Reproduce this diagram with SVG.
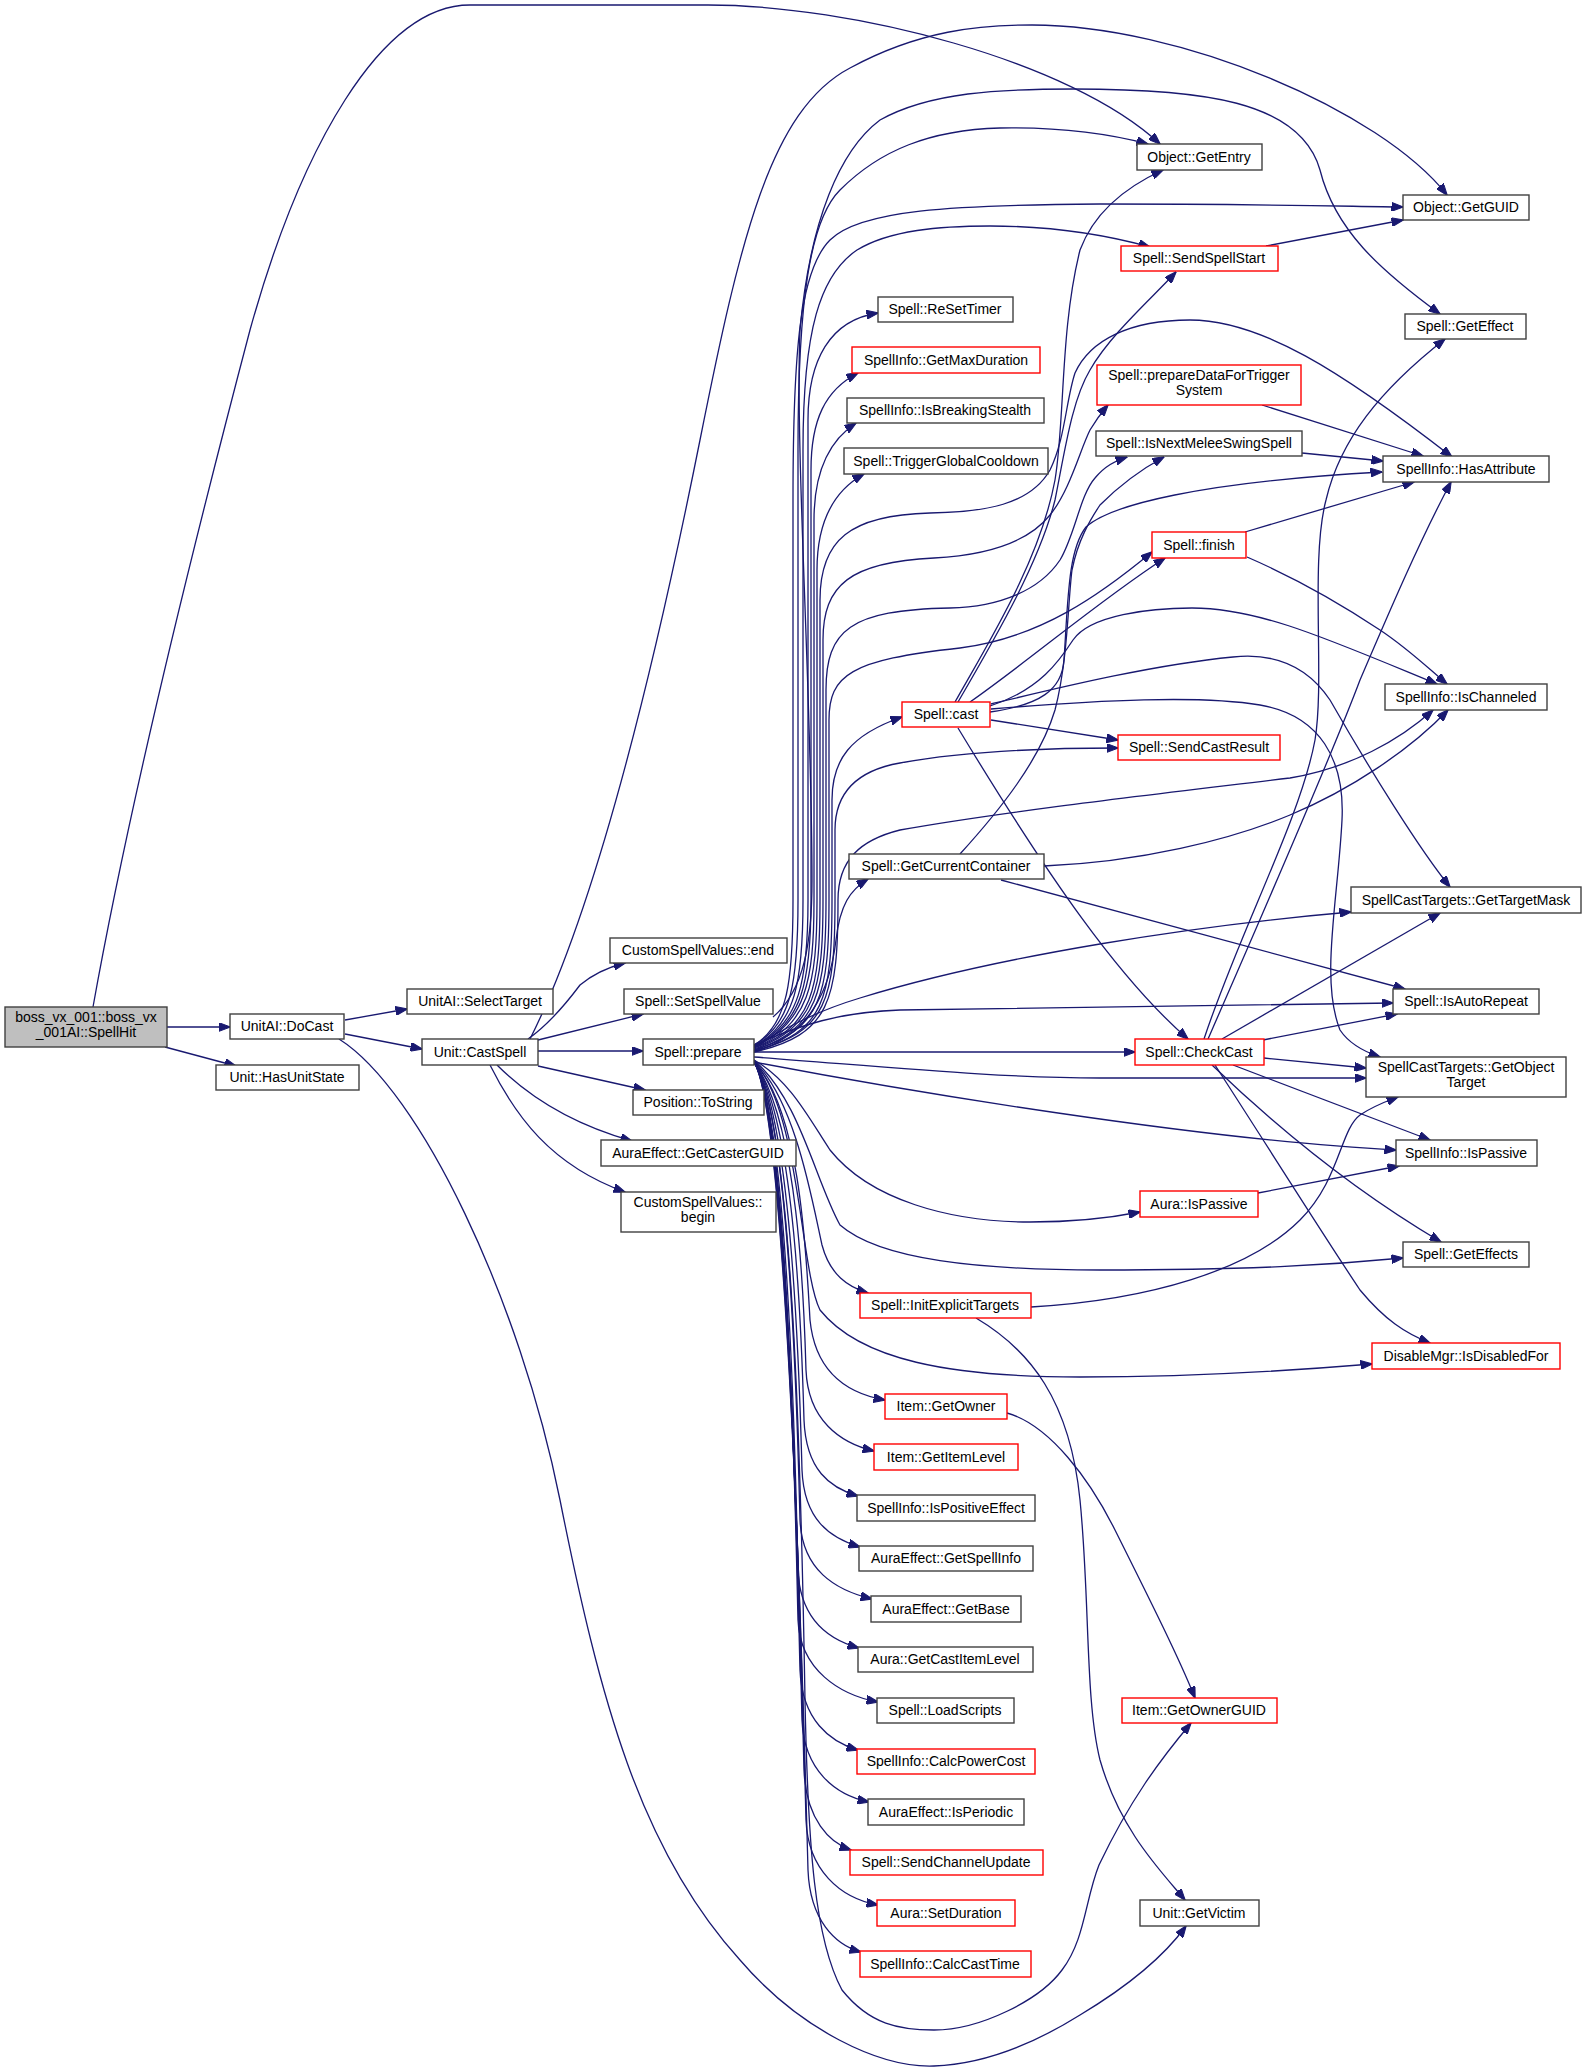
<svg xmlns="http://www.w3.org/2000/svg" width="1587" height="2071" viewBox="0 0 1587 2071">
<style>
.n rect{fill:#fff;stroke:#404040;stroke-width:1.4}
.r rect{fill:#fff;stroke:#ff0000;stroke-width:1.4}
.root rect{fill:#bfbfbf;stroke:#404040;stroke-width:1.4}
text{font-family:"Liberation Sans",Arial,sans-serif;font-size:14px;text-anchor:middle;fill:#000}
.e path{fill:none;stroke:#191970;stroke-width:1.3;marker-end:url(#a)}
</style>
<defs>
<marker id="a" markerWidth="12" markerHeight="9" refX="11.5" refY="4.5" orient="auto" markerUnits="userSpaceOnUse">
<path d="M0,0 L12,4.5 L0,9 z" fill="#191970" stroke="#191970" stroke-width="1"/>
</marker>
</defs>
<rect x="0" y="0" width="1587" height="2071" fill="#fff"/>
<g id="edges" class="e">
<path d="M167,1027 L230,1027"/>
<path d="M165,1047 L236,1066"/>
<path d="M93,1007 C130,800 200,520 250,330 C300,150 380,5 470,5 L708,5 C850,5 1070,60 1160,144"/>
<path d="M345,1020 L407,1009"/>
<path d="M345,1034 L422,1049"/>
<path d="M339,1039 C420,1090 520,1300 560,1500 C600,1700 640,1850 740,1960 C800,2030 880,2068 934,2066 C990,2064 1040,2040 1080,2015 C1130,1985 1165,1955 1186,1926"/>
<path d="M528,1039 C548,1025 565,1005 580,985 C592,975 605,968 625,963"/>
<path d="M530,1039 C600,900 660,640 700,440 C740,240 770,110 850,68 C920,30 980,25 1032,25 C1180,25 1380,110 1447,195"/>
<path d="M538,1040 L643,1014"/>
<path d="M538,1051 L643,1051"/>
<path d="M538,1066 L645,1090"/>
<path d="M497,1065 C530,1098 575,1125 632,1141"/>
<path d="M490,1065 C515,1115 550,1165 625,1192"/>
<path d="M773,1017 C805,990 812,940 812,880 C812,700 795,450 800,330 C810,220 840,150 880,120 C930,92 1000,89 1073,89 C1200,89 1300,100 1320,170 C1335,230 1380,270 1440,314"/>
<path d="M754,1045 C788,1025 793,980 793,900 L793,500 C793,350 800,270 830,240 C860,210 950,205 1100,204 C1250,204 1330,206 1403,207"/>
<path d="M754,1045 C792,1025 798,980 798,900 L798,450 C798,300 810,220 840,190 C880,150 930,130 1000,128 C1060,127 1110,134 1148,144"/>
<path d="M754,1046 C796,1025 803,980 803,900 L803,450 C803,330 820,275 857,250 C890,230 940,226 990,226 C1060,226 1110,236 1150,247"/>
<path d="M754,1046 C800,1025 808,980 808,900 L808,420 C808,360 830,320 878,313"/>
<path d="M754,1047 C803,1025 811,980 811,900 L811,470 C811,420 825,390 858,373"/>
<path d="M754,1047 C806,1025 814,980 814,900 L814,520 C814,470 830,440 856,423"/>
<path d="M754,1048 C809,1025 817,985 817,900 L817,570 C817,520 835,490 864,474"/>
<path d="M754,1048 C812,1028 820,990 820,900 L820,600 C820,540 850,515 930,513 C985,512 1030,505 1050,470 C1065,440 1066,400 1075,373 C1090,340 1130,320 1190,320 C1260,320 1340,370 1452,457"/>
<path d="M754,1049 C815,1028 823,990 823,900 L823,640 C823,585 850,562 934,558 C990,555 1030,540 1050,515 C1070,490 1080,450 1090,430 C1096,420 1102,412 1108,405"/>
<path d="M754,1050 C818,1030 826,990 826,900 L826,690 C826,630 850,610 950,608 C1000,607 1040,590 1060,560 C1075,535 1080,495 1095,478 C1105,466 1115,461 1127,457"/>
<path d="M754,1050 C821,1030 829,995 829,900 L829,720 C829,675 850,660 960,648 C1040,638 1100,595 1152,552"/>
<path d="M754,1051 C824,1032 832,1000 832,900 L832,800 C832,760 850,735 902,717"/>
<path d="M754,1051 C827,1032 835,1000 835,900 L835,830 C835,790 860,770 900,763 C960,752 1040,748 1118,748"/>
<path d="M754,1052 C830,1035 838,1000 838,900 C838,860 860,840 900,830 C1000,812 1150,795 1290,778 C1350,768 1400,740 1433,710"/>
<path d="M754,1052 C810,1035 830,990 836,940 C840,905 850,890 868,879"/>
<path d="M754,1047 C790,1025 820,1010 860,998 C1000,955 1200,925 1351,912"/>
<path d="M754,1045 C800,1025 840,1012 900,1010 C1100,1006 1300,1003 1393,1003"/>
<path d="M754,1052 L1135,1052"/>
<path d="M754,1057 C900,1068 1000,1078 1100,1078 L1366,1078"/>
<path d="M754,1062 C900,1090 1200,1140 1396,1150"/>
<path d="M754,1060 C790,1080 810,1120 830,1150 C870,1200 950,1222 1030,1222 C1080,1222 1110,1218 1140,1212"/>
<path d="M754,1060 C800,1100 815,1180 840,1225 C880,1260 980,1270 1100,1270 C1250,1270 1330,1265 1403,1258"/>
<path d="M754,1061 C795,1100 812,1200 822,1245 C830,1275 848,1287 868,1293"/>
<path d="M754,1062 C800,1110 800,1270 820,1310 C860,1360 950,1377 1080,1377 C1200,1377 1300,1370 1372,1364"/>
<path d="M754,1062 C800,1110 806,1250 810,1320 C815,1370 845,1393 885,1400"/>
<path d="M754,1062 C798,1120 804,1300 806,1370 C808,1420 840,1443 874,1451"/>
<path d="M754,1062 C796,1120 802,1350 804,1420 C806,1470 830,1488 858,1496"/>
<path d="M754,1062 C794,1120 800,1400 802,1470 C804,1520 830,1538 860,1547"/>
<path d="M754,1062 C792,1120 798,1450 800,1520 C802,1570 835,1590 872,1599"/>
<path d="M754,1062 C790,1120 796,1500 798,1570 C800,1620 830,1640 859,1648"/>
<path d="M754,1062 C790,1120 796,1550 798,1620 C800,1670 840,1695 878,1702"/>
<path d="M754,1062 C790,1120 798,1600 800,1670 C802,1720 830,1742 858,1750"/>
<path d="M754,1062 C790,1120 800,1650 802,1720 C804,1770 835,1795 869,1802"/>
<path d="M754,1062 C790,1120 802,1700 804,1770 C806,1820 830,1843 851,1850"/>
<path d="M754,1062 C790,1120 804,1750 806,1820 C808,1870 840,1898 878,1905"/>
<path d="M754,1062 C790,1120 806,1800 808,1870 C810,1920 835,1945 861,1952"/>
<path d="M754,1062 C790,1120 800,1400 805,1700 C808,1850 815,1940 842,1990 C870,2025 900,2030 934,2030 C980,2030 1040,2000 1062,1970 C1085,1940 1085,1900 1099,1865 C1130,1800 1160,1760 1191,1723"/>
<path d="M955,702 C990,640 1040,560 1055,480 C1065,420 1060,330 1080,250 C1095,210 1130,185 1163,170"/>
<path d="M958,702 C1000,630 1040,560 1055,500 C1065,450 1072,400 1090,370 C1110,335 1150,300 1176,272"/>
<path d="M970,702 C1030,660 1100,600 1165,558"/>
<path d="M990,712 C1040,705 1062,690 1064,660 C1068,600 1068,550 1086,527 C1110,505 1200,482 1382,472"/>
<path d="M990,706 C1040,690 1060,660 1073,640 C1090,615 1150,608 1192,608 C1260,608 1330,640 1437,684"/>
<path d="M991,720 L1118,740"/>
<path d="M958,728 C1050,880 1120,980 1188,1039"/>
<path d="M991,704 C1050,690 1150,665 1233,657 C1280,652 1310,670 1330,700 C1370,770 1420,850 1450,887"/>
<path d="M991,709 C1100,700 1200,695 1260,705 C1320,715 1345,760 1342,820 C1338,900 1320,980 1340,1030 C1350,1045 1365,1052 1380,1057"/>
<path d="M1245,532 L1414,482"/>
<path d="M1247,557 C1300,580 1350,610 1380,630 C1410,650 1430,670 1447,684"/>
<path d="M1262,405 L1423,456"/>
<path d="M1302,453 L1383,461"/>
<path d="M1266,246 L1403,220"/>
<path d="M960,854 C1000,810 1040,760 1055,710 C1068,660 1068,600 1072,570 C1078,540 1090,520 1100,505 C1120,485 1140,470 1164,457"/>
<path d="M1044,866 C1140,862 1230,840 1290,815 C1350,790 1410,750 1448,710"/>
<path d="M1001,880 L1405,989"/>
<path d="M1204,1039 C1240,930 1300,820 1315,740 C1325,680 1310,560 1326,500 C1340,440 1380,390 1445,339"/>
<path d="M1208,1039 C1260,920 1330,760 1360,680 C1390,610 1420,540 1451,482"/>
<path d="M1222,1039 L1440,913"/>
<path d="M1263,1040 L1397,1014"/>
<path d="M1264,1058 L1366,1068"/>
<path d="M1233,1065 L1430,1140"/>
<path d="M1212,1065 C1290,1140 1370,1200 1441,1242"/>
<path d="M1215,1065 C1270,1150 1320,1230 1360,1290 C1385,1320 1405,1333 1430,1343"/>
<path d="M1258,1193 L1399,1166"/>
<path d="M1031,1307 C1150,1300 1250,1270 1300,1220 C1340,1180 1340,1130 1360,1115 C1375,1105 1390,1100 1398,1097"/>
<path d="M976,1318 C1030,1350 1070,1400 1080,1500 C1090,1600 1085,1700 1100,1760 C1120,1830 1160,1870 1185,1900"/>
<path d="M1007,1413 C1050,1425 1090,1480 1115,1530 C1150,1600 1180,1660 1195,1698"/>
</g>
<g id="n_root" class="root"><rect x="5" y="1007" width="162" height="40"/><text x="86" y="1022">boss_vx_001::boss_vx</text><text x="86" y="1037">_001AI::SpellHit</text></g>
<g id="n_docast" class="n"><rect x="230" y="1014" width="114" height="25"/><text x="287" y="1031">UnitAI::DoCast</text></g>
<g id="n_hasunit" class="n"><rect x="216" y="1065" width="143" height="25"/><text x="287" y="1082">Unit::HasUnitState</text></g>
<g id="n_select" class="n"><rect x="407" y="989" width="146" height="25"/><text x="480" y="1006">UnitAI::SelectTarget</text></g>
<g id="n_castspell" class="n"><rect x="422" y="1039" width="116" height="26"/><text x="480" y="1057">Unit::CastSpell</text></g>
<g id="n_csvend" class="n"><rect x="610" y="938" width="177" height="25"/><text x="698" y="955">CustomSpellValues::end</text></g>
<g id="n_setspell" class="n"><rect x="624" y="989" width="149" height="25"/><text x="698" y="1006">Spell::SetSpellValue</text></g>
<g id="n_prepare" class="n"><rect x="643" y="1039" width="111" height="26"/><text x="698" y="1057">Spell::prepare</text></g>
<g id="n_tostring" class="n"><rect x="633" y="1090" width="131" height="25"/><text x="698" y="1107">Position::ToString</text></g>
<g id="n_castguid" class="n"><rect x="601" y="1140" width="195" height="26"/><text x="698" y="1158">AuraEffect::GetCasterGUID</text></g>
<g id="n_csvbegin" class="n"><rect x="621" y="1192" width="155" height="40"/><text x="698" y="1207">CustomSpellValues::</text><text x="698" y="1222">begin</text></g>
<g id="n_resettimer" class="n"><rect x="878" y="297" width="135" height="25"/><text x="945" y="314">Spell::ReSetTimer</text></g>
<g id="n_getmaxdur" class="r"><rect x="852" y="347" width="188" height="26"/><text x="946" y="365">SpellInfo::GetMaxDuration</text></g>
<g id="n_breakstealth" class="n"><rect x="847" y="398" width="197" height="25"/><text x="945" y="415">SpellInfo::IsBreakingStealth</text></g>
<g id="n_trigger" class="n"><rect x="844" y="448" width="204" height="26"/><text x="946" y="466">Spell::TriggerGlobalCooldown</text></g>
<g id="n_cast" class="r"><rect x="902" y="702" width="88" height="25"/><text x="946" y="719">Spell::cast</text></g>
<g id="n_getcur" class="n"><rect x="849" y="854" width="195" height="25"/><text x="946" y="871">Spell::GetCurrentContainer</text></g>
<g id="n_initexp" class="r"><rect x="860" y="1293" width="171" height="25"/><text x="945" y="1310">Spell::InitExplicitTargets</text></g>
<g id="n_getowner" class="r"><rect x="885" y="1394" width="122" height="25"/><text x="946" y="1411">Item::GetOwner</text></g>
<g id="n_itemlevel" class="r"><rect x="874" y="1444" width="144" height="26"/><text x="946" y="1462">Item::GetItemLevel</text></g>
<g id="n_ispositive" class="n"><rect x="857" y="1495" width="178" height="26"/><text x="946" y="1513">SpellInfo::IsPositiveEffect</text></g>
<g id="n_getspellinfo" class="n"><rect x="859" y="1546" width="174" height="25"/><text x="946" y="1563">AuraEffect::GetSpellInfo</text></g>
<g id="n_getbase" class="n"><rect x="871" y="1596" width="150" height="26"/><text x="946" y="1614">AuraEffect::GetBase</text></g>
<g id="n_castitemlevel" class="n"><rect x="858" y="1647" width="175" height="25"/><text x="945" y="1664">Aura::GetCastItemLevel</text></g>
<g id="n_loadscripts" class="n"><rect x="877" y="1698" width="137" height="25"/><text x="945" y="1715">Spell::LoadScripts</text></g>
<g id="n_calcpower" class="r"><rect x="857" y="1749" width="178" height="25"/><text x="946" y="1766">SpellInfo::CalcPowerCost</text></g>
<g id="n_isperiodic" class="n"><rect x="868" y="1799" width="156" height="26"/><text x="946" y="1817">AuraEffect::IsPeriodic</text></g>
<g id="n_sendchannel" class="r"><rect x="850" y="1850" width="193" height="25"/><text x="946" y="1867">Spell::SendChannelUpdate</text></g>
<g id="n_setduration" class="r"><rect x="877" y="1900" width="138" height="26"/><text x="946" y="1918">Aura::SetDuration</text></g>
<g id="n_calccast" class="r"><rect x="860" y="1951" width="171" height="26"/><text x="945" y="1969">SpellInfo::CalcCastTime</text></g>
<g id="n_getentry" class="n"><rect x="1137" y="144" width="125" height="26"/><text x="1199" y="162">Object::GetEntry</text></g>
<g id="n_sendspellstart" class="r"><rect x="1121" y="246" width="157" height="25"/><text x="1199" y="263">Spell::SendSpellStart</text></g>
<g id="n_preparedata" class="r"><rect x="1097" y="365" width="204" height="40"/><text x="1199" y="380">Spell::prepareDataForTrigger</text><text x="1199" y="395">System</text></g>
<g id="n_isnextmelee" class="n"><rect x="1096" y="431" width="206" height="25"/><text x="1199" y="448">Spell::IsNextMeleeSwingSpell</text></g>
<g id="n_finish" class="r"><rect x="1152" y="532" width="94" height="26"/><text x="1199" y="550">Spell::finish</text></g>
<g id="n_sendcastresult" class="r"><rect x="1118" y="735" width="162" height="25"/><text x="1199" y="752">Spell::SendCastResult</text></g>
<g id="n_checkcast" class="r"><rect x="1135" y="1039" width="129" height="26"/><text x="1199" y="1057">Spell::CheckCast</text></g>
<g id="n_aurapassive" class="r"><rect x="1140" y="1191" width="118" height="26"/><text x="1199" y="1209">Aura::IsPassive</text></g>
<g id="n_getownerguid" class="r"><rect x="1122" y="1698" width="155" height="25"/><text x="1199" y="1715">Item::GetOwnerGUID</text></g>
<g id="n_getvictim" class="n"><rect x="1140" y="1900" width="119" height="26"/><text x="1199" y="1918">Unit::GetVictim</text></g>
<g id="n_getguid" class="n"><rect x="1403" y="195" width="126" height="25"/><text x="1466" y="212">Object::GetGUID</text></g>
<g id="n_geteffect" class="n"><rect x="1405" y="314" width="121" height="25"/><text x="1465" y="331">Spell::GetEffect</text></g>
<g id="n_hasattr" class="n"><rect x="1383" y="456" width="166" height="26"/><text x="1466" y="474">SpellInfo::HasAttribute</text></g>
<g id="n_ischanneled" class="n"><rect x="1385" y="684" width="162" height="26"/><text x="1466" y="702">SpellInfo::IsChanneled</text></g>
<g id="n_targetmask" class="n"><rect x="1351" y="887" width="230" height="26"/><text x="1466" y="905">SpellCastTargets::GetTargetMask</text></g>
<g id="n_isautorepeat" class="n"><rect x="1393" y="989" width="146" height="25"/><text x="1466" y="1006">Spell::IsAutoRepeat</text></g>
<g id="n_objtarget" class="n"><rect x="1366" y="1057" width="200" height="40"/><text x="1466" y="1072">SpellCastTargets::GetObject</text><text x="1466" y="1087">Target</text></g>
<g id="n_spellpassive" class="n"><rect x="1396" y="1140" width="141" height="26"/><text x="1466" y="1158">SpellInfo::IsPassive</text></g>
<g id="n_geteffects" class="n"><rect x="1403" y="1242" width="126" height="25"/><text x="1466" y="1259">Spell::GetEffects</text></g>
<g id="n_disabled" class="r"><rect x="1372" y="1343" width="188" height="26"/><text x="1466" y="1361">DisableMgr::IsDisabledFor</text></g>
</svg>
